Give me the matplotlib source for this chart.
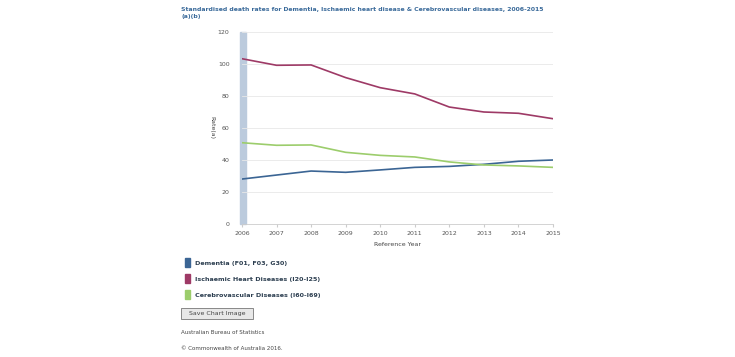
import matplotlib
matplotlib.use("Agg")
import matplotlib.pyplot as plt
from matplotlib.patches import Rectangle, FancyBboxPatch

years = [2006, 2007, 2008, 2009, 2010, 2011, 2012, 2013, 2014, 2015]
dementia = [28.1, 30.6, 33.1, 32.3, 33.8, 35.4, 36.0, 37.3, 39.2, 40.0]
ischaemic = [103.3, 99.2, 99.4, 91.5, 85.2, 81.3, 73.1, 70.0, 69.2, 65.8]
cerebro = [50.8, 49.2, 49.4, 44.8, 42.9, 41.9, 38.8, 36.9, 36.3, 35.4]
series_names = ["Dementia (F01, F03, G30)",
                "Ischaemic Heart Diseases (I20-I25)",
                "Cerebrovascular Diseases (I60-I69)"]
colors = ["#3b6594", "#9e3a66", "#9ccd6c"]
yticks = [0, 20, 40, 60, 80, 100, 120]

W, H = 735, 357
fig = plt.figure(figsize=(W / 100, H / 100), dpi=100)
ax = fig.add_axes([242 / W, 1 - 224 / H, (553 - 242) / W, (224 - 32) / H])

for vals, c in zip([dementia, ischaemic, cerebro], colors):
    ax.plot(years, vals, color=c, lw=1.2, zorder=3, solid_capstyle="round")

ax.set_xlim(years[0], years[-1])
ax.set_ylim(0, 120)
ax.set_yticks(yticks)
ax.set_xticks(years)
ax.tick_params(axis="both", labelsize=4.5, colors="#555555", length=0)
ax.tick_params(axis="x", length=2, color="#cccccc", pad=3)
ax.tick_params(axis="y", pad=9)
ax.grid(axis="y", color="#e8e8e8", lw=0.6, zorder=1)
for s in ["top", "right", "left"]:
    ax.spines[s].set_visible(False)
ax.spines["bottom"].set_color("#cccccc")
ax.spines["bottom"].set_linewidth(0.6)

# light band along the left edge
ax.add_patch(Rectangle((-0.006, 0), 0.018, 1, transform=ax.transAxes,
                       color="#bccbdd", zorder=0.5, clip_on=False))

ax.set_xlabel("Reference Year", fontsize=4.5, color="#444444", labelpad=4)
ax.set_ylabel("Rate(a)", fontsize=4.5, color="#444444", rotation=-90, labelpad=6)

fig.text(181 / W, 1 - 6.5 / H,
         "Standardised death rates for Dementia, Ischaemic heart disease & Cerebrovascular diseases, 2006-2015\n(a)(b)",
         fontsize=4.45, fontweight="bold", color="#3a6a9a", va="top", ha="left", linespacing=1.6)

# legend
for i, (name, c) in enumerate(zip(series_names, colors)):
    yc = 263 + 16 * i
    fig.patches.append(Rectangle((185 / W, 1 - (yc + 4) / H), 5 / W, 9 / H,
                                 transform=fig.transFigure, color=c))
    fig.text(195 / W, 1 - yc / H, name, fontsize=4.6, fontweight="bold",
             color="#2c3e50", va="center", ha="left")

# button
fig.patches.append(FancyBboxPatch((181 / W, 1 - 319 / H), 72 / W, 11 / H,
                                  boxstyle="square,pad=0", transform=fig.transFigure,
                                  facecolor="#e8e8e8", edgecolor="#777777", lw=0.6))
fig.text(217 / W, 1 - 313.5 / H, "Save Chart Image", fontsize=4.5, color="#444444",
         va="center", ha="center")

fig.text(181 / W, 1 - 332 / H, "Australian Bureau of Statistics", fontsize=4,
         color="#444444", va="center", ha="left")
fig.text(181 / W, 1 - 349 / H, "\u00a9 Commonwealth of Australia 2016.", fontsize=4,
         color="#444444", va="center", ha="left")

fig.savefig("out.png", dpi=100, facecolor="white")
